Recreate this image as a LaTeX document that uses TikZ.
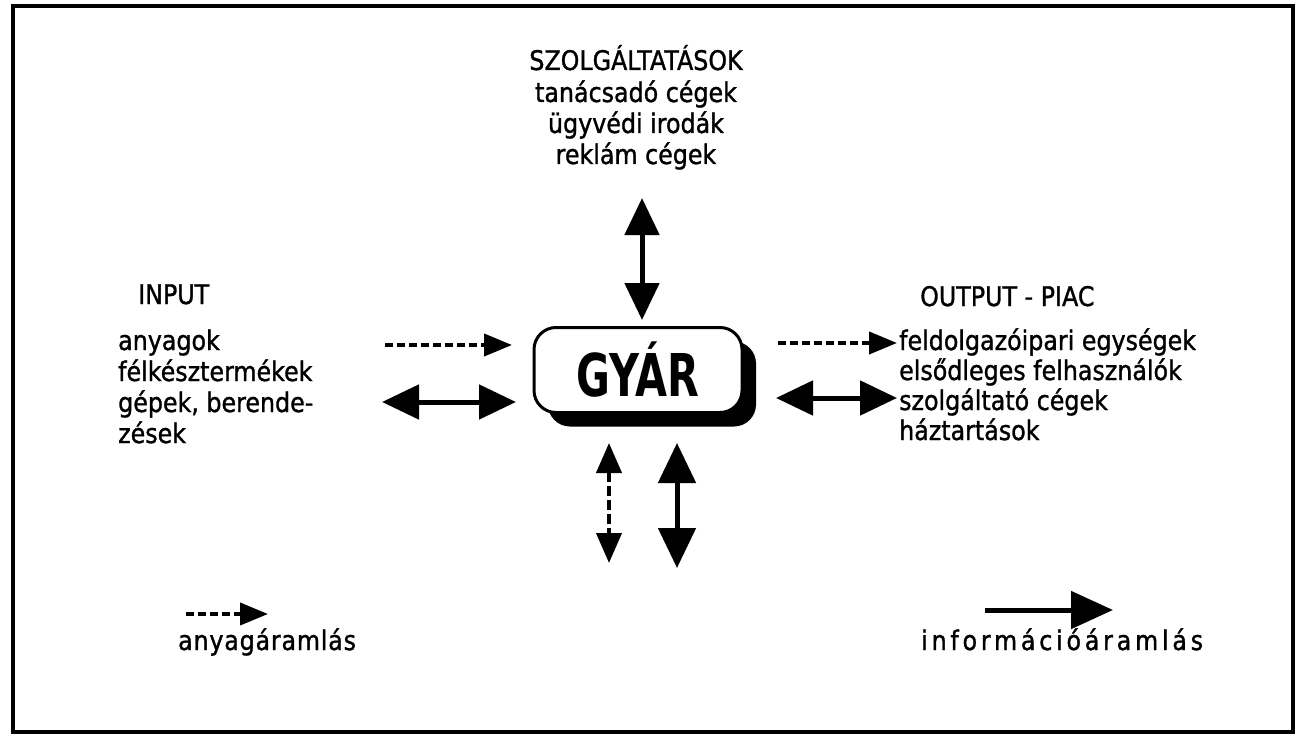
\documentclass[tikz,border=0pt]{standalone}
\usepackage{fontspec}
\setmainfont{DejaVu Sans}[FakeStretch=0.88,FakeBold=1.2]
\newfontfamily\gyarfont{DejaVu Sans}[FakeStretch=0.7]
\usetikzlibrary{arrows.meta}
\begin{document}
\begin{tikzpicture}[x=1pt,y=-1pt,
  txt/.style={font=\fontsize{27}{27}\selectfont, inner sep=0pt, anchor=base west},
  ctxt/.style={txt, anchor=base},
  info/.style={line width=5pt, {Triangle[length=37pt,width=34pt]}-{Triangle[length=37pt,width=34pt]}},
  infoone/.style={line width=5pt, -{Triangle[length=42pt,width=37pt]}},
  matflow/.style={line width=4pt, dash pattern=on 8pt off 4pt, -{Triangle[length=28pt,width=22pt]}},
  matboth/.style={line width=4pt, dash pattern=on 10pt off 4pt, {Triangle[length=30pt,width=25pt]}-{Triangle[length=30pt,width=25pt]}},
  boxshape/.style={rounded corners=22pt, minimum width=208pt, minimum height=85pt, inner sep=0pt}
]
\useasboundingbox (0,0) rectangle (1298,738);
\draw[line width=4pt] (13,6) rectangle (1293,732);

% central box with shadow
\node[boxshape, fill=black] (shadow) at (652,384) {};
\node[boxshape, draw, line width=3pt, fill=white, font=\gyarfont\bfseries\fontsize{59}{59}\selectfont] (gyar) at (638,370) {GY\'AR};

% top block
\node[ctxt] (szolg) at (636,70) {SZOLGÁLTATÁSOK};
\node[ctxt] (tan) at (636,102) {tanácsadó cégek};
\node[ctxt] (ugyv) at (636,133) {ügyvédi irodák};
\node[ctxt] (rekl) at (636,164) {reklám cégek};

% left block
\node[txt] (input) at (138,304) {INPUT};
\node[txt] (anyag) at (118,350) {anyagok};
\node[txt] (felk) at (118,381) {félkésztermékek};
\node[txt] (gepek) at (118,412) {gépek, berende-};
\node[txt] (zesek) at (118,443) {zések};

% right block
\node[txt] (output) at (920,306) {OUTPUT - PIAC};
\node[txt] (feld) at (899,350) {feldolgazóipari egységek};
\node[txt] (elso) at (899,380) {elsődleges felhasználók};
\node[txt] (szolgc) at (899,410) {szolgáltató cégek};
\node[txt] (haz) at (899,440) {háztartások};

% connectors
\coordinate (tA) at (642,198); \coordinate (tB) at (642,320);
\draw[info] (tA) -- (tB);
\coordinate (lA) at (385,345); \coordinate (lB) at (512,345);
\draw[matflow] (lA) -- (lB);
\coordinate (lC) at (382,402); \coordinate (lD) at (516,402);
\draw[info] (lC) -- (lD);
\coordinate (rA) at (778,343); \coordinate (rB) at (897,343);
\draw[matflow] (rA) -- (rB);
\coordinate (rC) at (776,398); \coordinate (rD) at (897,398);
\draw[info] (rC) -- (rD);
\coordinate (bA) at (609,443); \coordinate (bB) at (609,563);
\draw[matboth] (bA) -- (bB);
\coordinate (bC) at (677,443); \coordinate (bD) at (677,568);
\draw[info, {Triangle[length=40pt,width=37pt]}-{Triangle[length=40pt,width=37pt]}] (bC) -- (bD);

% legend
\coordinate (gA) at (186,614); \coordinate (gB) at (268,614);
\draw[matflow] (gA) -- (gB);
\node[txt] (anyagar) at (178,650) {\addfontfeature{LetterSpace=3}anyagáramlás};
\coordinate (gC) at (985,610); \coordinate (gD) at (1113,610);
\draw[infoone] (gC) -- (gD);
\node[txt] (infoar) at (921,650) {\addfontfeature{LetterSpace=14}információáramlás};
\end{tikzpicture}
\end{document}
